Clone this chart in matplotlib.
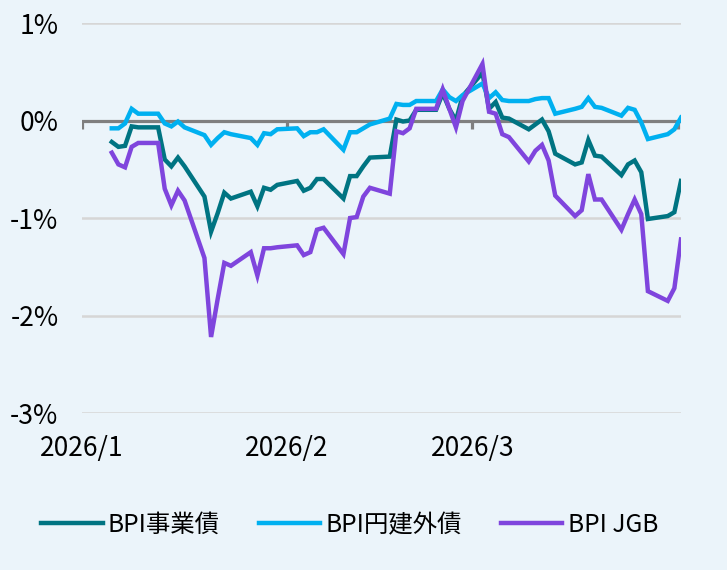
import matplotlib
matplotlib.use("Agg")
import matplotlib.pyplot as plt
import pandas as pd

plt.rcParams["font.family"] = ["Noto Sans CJK JP", "DejaVu Sans"]

# weekdays Jan 5 - Apr 1 2026 (holidays carry the previous value)
dates = pd.bdate_range("2026-01-05", "2026-04-01")

corp = [  # BPI事業債
    -0.22, -0.27, -0.26, -0.06, -0.07, -0.07, -0.40, -0.47, -0.38, -0.47,
    -0.78, -1.14, -0.95, -0.74, -0.80, -0.73, -0.88, -0.69, -0.71, -0.66,
    -0.62, -0.72, -0.69, -0.60, -0.60, -0.80, -0.57, -0.57, -0.47, -0.38,
    -0.37, 0.01, -0.01, 0.00, 0.11, 0.11, 0.28, 0.12, 0.00, 0.25,
    0.49, 0.12, 0.19, 0.03, 0.02, -0.09, -0.04, 0.01, -0.11, -0.34,
    -0.45, -0.43, -0.20, -0.36, -0.37, -0.56, -0.45, -0.41, -0.53, -1.01,
    -0.98, -0.94, -0.62,
]
yen_foreign = [  # BPI円建外債
    -0.08, -0.08, -0.03, 0.12, 0.07, 0.07, -0.03, -0.06, -0.01, -0.07,
    -0.15, -0.25, -0.18, -0.12, -0.14, -0.18, -0.25, -0.13, -0.14, -0.09,
    -0.08, -0.16, -0.12, -0.12, -0.09, -0.30, -0.12, -0.12, -0.08, -0.04,
    0.02, 0.17, 0.16, 0.16, 0.20, 0.20, 0.32, 0.24, 0.20, 0.26,
    0.38, 0.23, 0.29, 0.21, 0.20, 0.20, 0.22, 0.23, 0.23, 0.07,
    0.12, 0.14, 0.23, 0.14, 0.13, 0.05, 0.13, 0.11, -0.02, -0.19,
    -0.14, -0.09, 0.03,
]
jgb = [  # BPI JGB
    -0.33, -0.45, -0.48, -0.27, -0.23, -0.23, -0.70, -0.87, -0.72, -0.82,
    -1.41, -2.22, -1.83, -1.46, -1.49, -1.35, -1.59, -1.31, -1.31, -1.30,
    -1.28, -1.38, -1.35, -1.12, -1.10, -1.37, -1.00, -0.99, -0.78, -0.69,
    -0.75, -0.11, -0.13, -0.08, 0.12, 0.12, 0.32, 0.12, -0.07, 0.20,
    0.58, 0.09, 0.07, -0.14, -0.17, -0.42, -0.31, -0.25, -0.41, -0.77,
    -0.98, -0.92, -0.55, -0.81, -0.81, -1.12, -0.96, -0.81, -0.96, -1.75,
    -1.85, -1.72, -1.22,
]

series_names = ["BPI事業債", "BPI円建外債", "BPI JGB"]
colors = ["#007482", "#00B0F0", "#7F45DD"]
month_ticks = pd.to_datetime(["2026-01-01", "2026-02-01", "2026-03-01"])
month_labels = ["2026/1", "2026/2", "2026/3"]
y_ticks = [1, 0, -1, -2, -3]

bg = "#EBF4FA"
fig = plt.figure(figsize=(7.27, 5.70), dpi=100, facecolor=bg)
ax = fig.add_axes([0.1128, 0.2754, 0.8239, 0.6842])
ax.set_facecolor(bg)

# points sit in the middle of each day's slot
x = dates + pd.Timedelta(hours=12)
for vals, name, c in zip([corp, yen_foreign, jgb], series_names, colors):
    ax.plot(x, vals, color=c, lw=3.2, label=name, solid_joinstyle="miter", zorder=3)

ax.set_ylim(-3, 1)
ax.set_xlim(pd.Timestamp("2026-01-01"), pd.Timestamp("2026-04-01 12:00"))

for yv in [1, -1, -2, -3]:
    ax.axhline(yv, color="#D6D6D6", lw=1.8, zorder=1)
ax.axhline(0, color="#7F7F7F", lw=2.3, zorder=2)
tick_marks = list(month_ticks) + [pd.Timestamp("2026-04-01")]
ax.vlines(tick_marks, -0.09, 0, color="#7F7F7F", lw=2.3, zorder=2)

ax.set_yticks(y_ticks)
ax.set_yticklabels([f"{v}%" for v in y_ticks])
ax.set_xticks(month_ticks)
ax.set_xticklabels(month_labels)
ax.tick_params(axis="y", length=0, pad=17, labelsize=19, colors="black")
ax.tick_params(axis="x", length=0, pad=16, labelsize=19, colors="black")
for s in ax.spines.values():
    s.set_visible(False)

fig.legend(loc="center", bbox_to_anchor=(0.481, 0.079), ncol=3, frameon=False,
           fontsize=17.6, handlelength=2.5, handletextpad=0.22, columnspacing=1.6)

fig.savefig("out.png", dpi=100, facecolor=bg)
